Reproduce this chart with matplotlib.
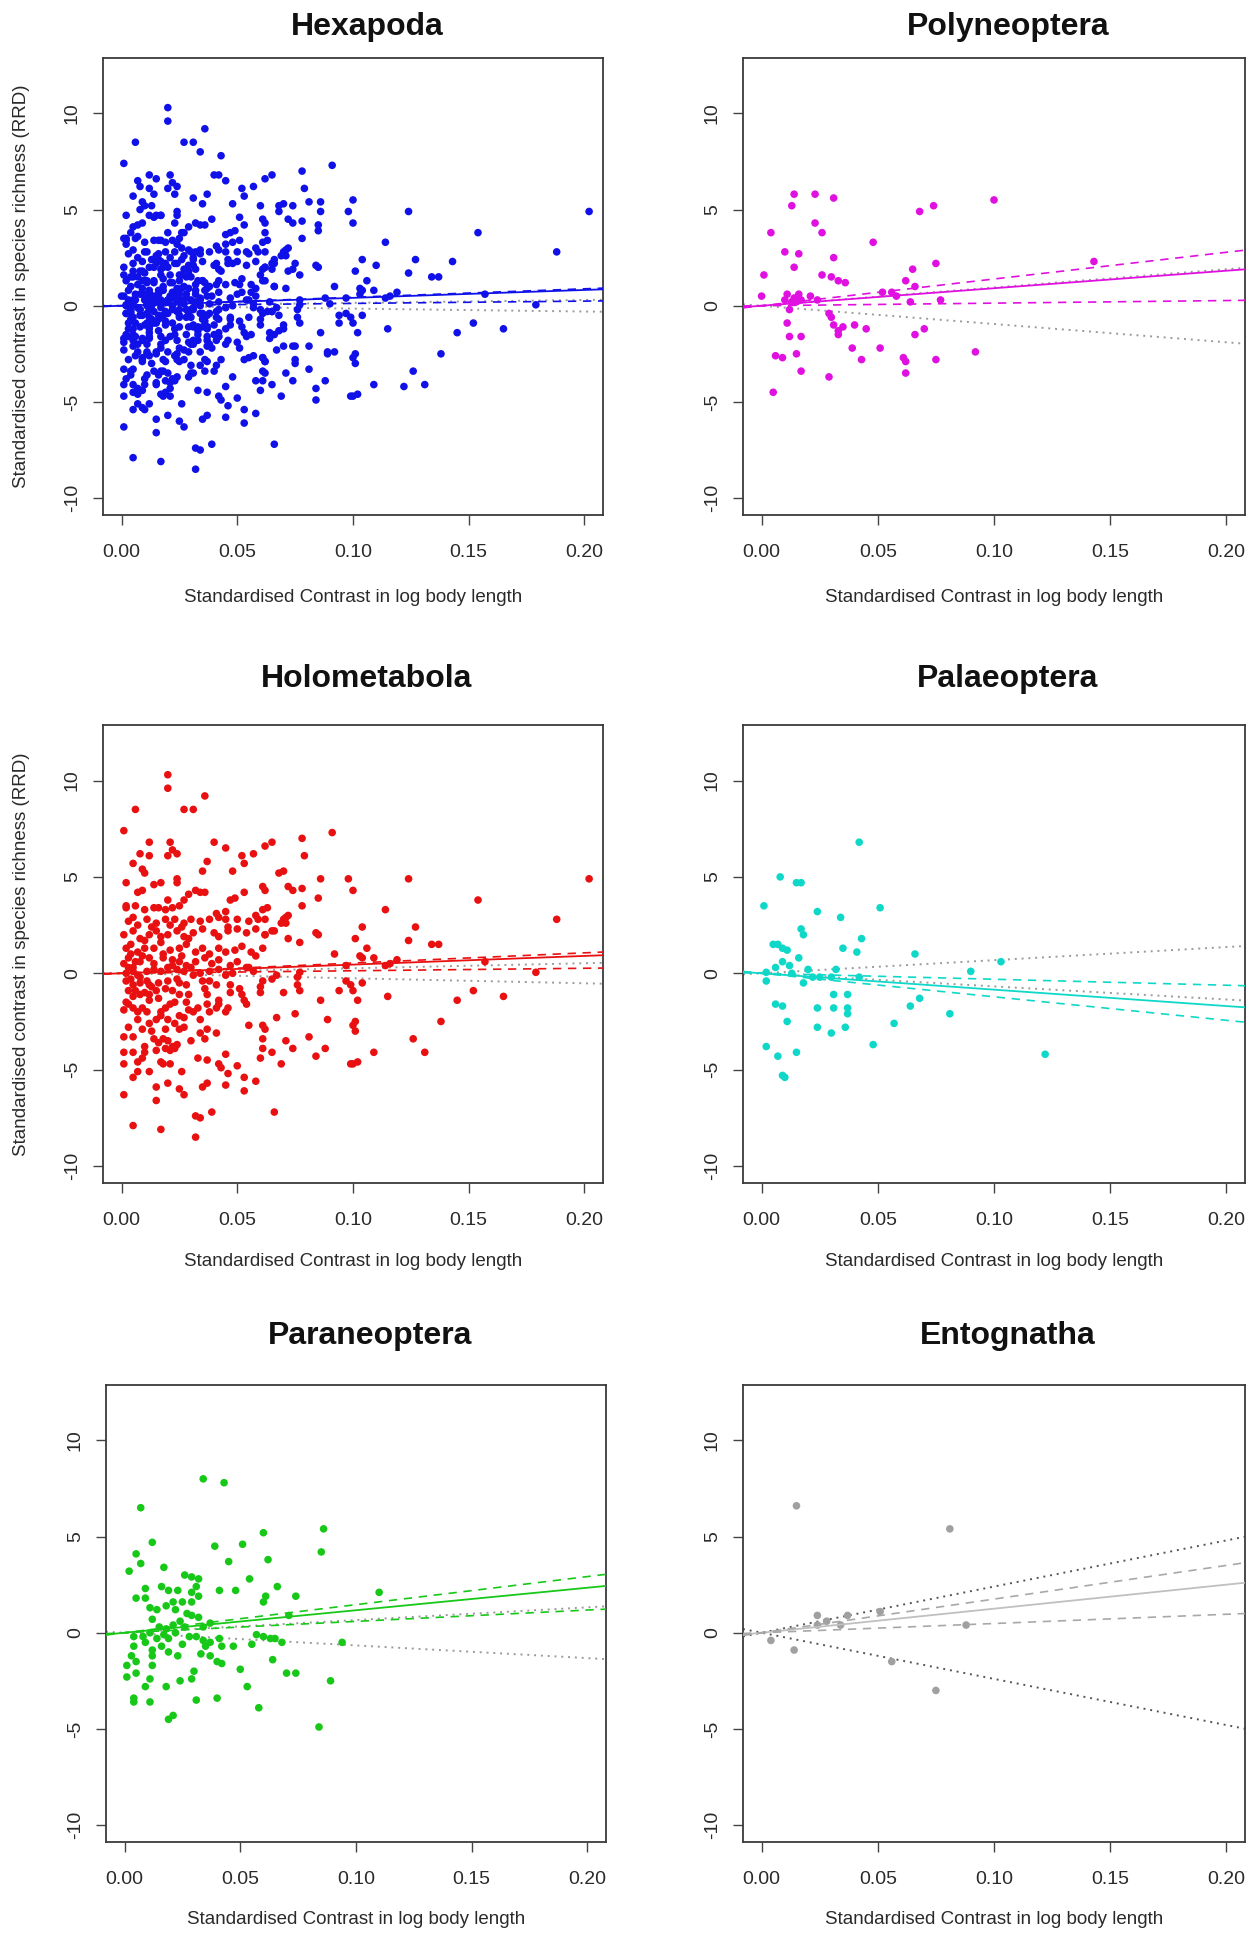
import numpy as np
import matplotlib
matplotlib.use("Agg")
import matplotlib.pyplot as plt

plt.rcParams['font.family'] = ['Liberation Sans', 'DejaVu Sans']

# ---- data ----
holo_x = [0.020, 0.020, 0.036, 0.006, 0.027, 0.031, 0.001, 0.091, 0.012, 0.021, 0.022, 0.024, 0.040, 0.045,
          0.008, 0.012, 0.005, 0.020, 0.009, 0.010, 0.002, 0.037, 0.035, 0.048, 0.052, 0.053, 0.057, 0.062,
          0.065, 0.078, 0.079, 0.068, 0.070, 0.086, 0.098, 0.100, 0.061, 0.062, 0.072, 0.074, 0.078, 0.085,
          0.078, 0.053, 0.024, 0.024, 0.014, 0.017, 0.007, 0.009, 0.002, 0.002, 0.005, 0.016, 0.019, 0.022,
          0.025, 0.027, 0.029, 0.032, 0.034, 0.036, 0.020, 0.047, 0.049, 0.041, 0.042, 0.045, 0.046, 0.058,
          0.061, 0.063, 0.069, 0.071, 0.072, 0.065, 0.062, 0.072, 0.077, 0.084, 0.085, 0.101, 0.092, 0.097,
          # right half
          0.124, 0.202, 0.154, 0.114, 0.188, 0.104, 0.127, 0.124, 0.134, 0.137, 0.106, 0.103, 0.104, 0.109,
          0.114, 0.116, 0.119, 0.157, 0.179, 0.104, 0.100, 0.102, 0.115, 0.152, 0.145, 0.165, 0.101, 0.101,
          0.100, 0.138, 0.126, 0.131, 0.109, 0.100, 0.102,
          # negative region
          0.001, 0.005, 0.017, 0.032, 0.032, 0.034, 0.039, 0.066, 0.015, 0.015, 0.020, 0.025, 0.027, 0.035,
          0.037, 0.045, 0.053, 0.058, 0.053, 0.050, 0.046, 0.045, 0.042, 0.043, 0.037, 0.033, 0.026, 0.021,
          0.018, 0.017, 0.012, 0.005, 0.007, 0.007, 0.009, 0.001, 0.001, 0.005, 0.001, 0.005, 0.010, 0.010,
          0.014, 0.016, 0.018, 0.020, 0.022, 0.023, 0.024, 0.015, 0.019, 0.021, 0.025, 0.027, 0.030, 0.034,
          0.036, 0.037, 0.041, 0.055, 0.061, 0.062, 0.061, 0.061, 0.060, 0.065, 0.069, 0.071, 0.074, 0.067,
          0.075, 0.081, 0.084, 0.088, 0.089, 0.086, 0.099, 0.094, 0.097, 0.099, 0.077, 0.076, 0.070, 0.076,
          0.077, 0.065, 0.067, 0.060, 0.060, 0.061, 0.052, 0.053, 0.054, 0.051, 0.057, 0.055, 0.047, 0.047,
          0.046, 0.045, 0.042, 0.041, 0.042, 0.038, 0.037, 0.037, 0.033, 0.034, 0.031, 0.029, 0.027, 0.025,
          0.023, 0.021, 0.019, 0.017, 0.020, 0.017, 0.015, 0.012, 0.011, 0.009, 0.007, 0.005, 0.003, 0.002,
          0.001, 0.029, 0.025, 0.022, 0.019, 0.015, 0.012, 0.010, 0.008, 0.005, 0.003, 0.028, 0.025, 0.020,
          0.016, 0.012, 0.008, 0.005, 0.002, 0.038, 0.041, 0.035, 0.036,
          # around zero
          0.002, 0.005, 0.007, 0.011, 0.014, 0.017, 0.020, 0.024, 0.027, 0.031, 0.034, 0.038, 0.042, 0.045,
          0.048, 0.001, 0.003, 0.005, 0.008, 0.012, 0.014, 0.018, 0.022, 0.025, 0.028, 0.032, 0.036, 0.039,
          0.042, 0.047, 0.050, 0.054,
          # positive band
          0.002, 0.004, 0.007, 0.010, 0.014, 0.017, 0.021, 0.025, 0.028, 0.032, 0.035, 0.038, 0.042, 0.045,
          0.049, 0.052, 0.056, 0.058, 0.061, 0.001, 0.005, 0.008, 0.012, 0.015, 0.020, 0.024, 0.027, 0.031,
          0.035, 0.040, 0.042, 0.046, 0.050, 0.054, 0.058, 0.062, 0.066, 0.003, 0.007, 0.011, 0.015, 0.019,
          0.023, 0.027, 0.030, 0.034, 0.038, 0.045, 0.050, 0.055, 0.059, 0.062, 0.070, 0.071, 0.006, 0.010,
          0.014,
          # dense core
          0.003, 0.004, 0.006, 0.008, 0.009, 0.011, 0.013, 0.006, 0.004, 0.010, 0.012, 0.007, 0.003, 0.009,
          0.013, 0.016, 0.018, 0.022, 0.024, 0.026, 0.028, 0.030, 0.019, 0.023, 0.013, 0.017, 0.021, 0.026,
          0.029]
holo_y = [10.3, 9.6, 9.2, 8.5, 8.5, 8.5, 7.4, 7.3, 6.8, 6.8, 6.4, 6.2, 6.8, 6.5,
          6.2, 6.1, 5.7, 6.1, 5.4, 5.2, 4.7, 5.8, 5.3, 5.3, 6.1, 5.7, 6.2, 6.6,
          6.8, 7.0, 6.1, 5.2, 5.3, 4.9, 4.9, 4.3, 4.5, 4.3, 4.5, 4.3, 4.4, 3.9,
          3.5, 4.2, 4.9, 4.7, 4.6, 4.7, 4.2, 4.3, 3.5, 3.4, 2.9, 3.4, 3.3, 3.4,
          3.5, 3.8, 4.1, 4.3, 4.2, 4.2, 3.8, 3.8, 3.9, 3.1, 2.9, 3.2, 2.4, 3.0,
          3.3, 3.4, 2.6, 2.9, 3.0, 2.2, 2.0, 1.8, 1.6, 2.1, 2.0, 1.8, 1.0, 0.4,
          4.9, 4.9, 3.8, 3.3, 2.8, 2.4, 2.4, 1.7, 1.5, 1.5, 1.3, 0.9, 0.8, 0.8,
          0.4, 0.5, 0.7, 0.6, 0.05, -0.5, -0.9, -1.4, -1.2, -0.9, -1.4, -1.2, -2.5, -3.0,
          -2.7, -2.5, -3.4, -4.1, -4.1, -4.7, -4.6,
          -6.3, -7.9, -8.1, -8.5, -7.4, -7.5, -7.2, -7.2, -6.6, -5.9, -5.7, -6.0, -6.3, -5.9,
          -5.7, -5.8, -6.1, -5.6, -5.4, -4.8, -5.2, -4.2, -4.7, -4.9, -4.5, -4.4, -5.1, -4.7,
          -4.7, -4.6, -5.1, -5.4, -5.1, -4.6, -4.4, -4.7, -4.1, -4.1, -3.3, -3.3, -3.8, -4.1,
          -3.4, -3.6, -3.4, -3.5, -3.8, -3.9, -3.7, -4.0, -3.9, -4.0, -2.9, -2.8, -3.5, -3.1,
          -3.4, -2.9, -3.1, -2.7, -2.7, -2.9, -3.4, -3.9, -4.4, -4.1, -4.7, -3.5, -3.9, -2.3,
          -2.1, -3.3, -4.3, -3.9, -2.4, -1.4, -4.7, -0.9, -0.4, -0.6, -0.9, -0.6, -1.0, -0.2,
          0.05, -0.3, -0.1, -1.0, -0.7, -0.4, -1.1, -1.4, -1.6, -0.8, 0.1, 0.3, -0.6, -1.0,
          -1.8, -2.0, -1.6, -1.8, -1.4, -2.0, -1.6, -1.1, -1.8, -2.4, -2.0, -1.9, -2.3, -2.2,
          -1.5, -1.6, -1.8, -2.0, -2.4, -2.2, -2.4, -2.6, -2.0, -1.8, -2.0, -1.8, -1.6, -1.5,
          -1.9, -1.1, -1.1, -0.9, -0.8, -0.9, -1.1, -1.0, -1.1, -1.2, -0.9, -0.6, -0.5, -0.4,
          -0.5, -0.6, -0.5, -0.6, -0.4, -0.4, -0.6, -0.4, -0.8,
          0.0, 0.1, -0.1, 0.1, 0.2, 0.1, 0.3, 0.2, 0.1, -0.1, 0.0, 0.1, 0.2, -0.1,
          0.0, 0.5, 0.8, 0.3, 0.6, 0.8, 0.5, 0.8, 0.7, 0.6, 0.4, 0.6, 0.8, 0.5,
          0.7, 0.4, 0.6, 0.3,
          1.3, 1.5, 1.1, 1.3, 1.3, 1.6, 1.2, 1.3, 1.5, 1.1, 1.3, 1.0, 1.3, 1.1,
          1.2, 1.4, 1.1, 0.9, 1.3, 2.0, 2.2, 1.8, 2.0, 2.2, 2.0, 2.2, 1.9, 2.1,
          2.3, 2.1, 1.9, 2.2, 2.3, 2.1, 2.3, 2.0, 2.2, 2.7, 2.5, 2.8, 2.6, 2.8,
          2.8, 2.6, 2.8, 2.7, 2.8, 2.8, 2.8, 2.7, 2.8, 2.8, 2.8, 2.6, 3.5, 3.3,
          3.4,
          0.3, -0.3, 0.6, -0.2, 0.9, -0.4, -0.7, -0.9, 1.0, 1.7, -1.4, -2.4, -2.8, -2.9,
          -3.0, -1.3, 1.0, 0.4, -0.3, 0.9, -1.5, 0.3, -2.9, -2.6, 2.4, 1.9, 2.5, 2.4,
          1.8]

poly_x = [0.001, 0.000, 0.004, 0.005, 0.006, 0.009, 0.010, 0.013, 0.014, 0.014, 0.016, 0.011, 0.012, 0.017,
          0.015, 0.017, 0.011, 0.013, 0.014, 0.016, 0.012, 0.015, 0.017, 0.010, 0.021, 0.023, 0.023, 0.026,
          0.026, 0.030, 0.033, 0.036, 0.031, 0.031, 0.029, 0.029, 0.030, 0.031, 0.033, 0.033, 0.035, 0.024,
          0.039, 0.040, 0.043, 0.045, 0.048, 0.051, 0.052, 0.056, 0.058, 0.062, 0.065, 0.061, 0.062, 0.062,
          0.064, 0.066, 0.066, 0.068, 0.070, 0.074, 0.075, 0.075, 0.077, 0.092, 0.100, 0.143]
poly_y = [1.6, 0.5, 3.8, -4.5, -2.6, -2.7, 2.8, 5.2, 5.8, 2.0, 2.7, -0.9, -1.6, -1.6,
          -2.5, -3.4, 0.6, 0.2, 0.4, 0.6, -0.2, 0.2, 0.3, 0.3, 0.5, 4.3, 5.8, 3.8,
          1.6, 1.5, 1.3, 1.2, 5.6, 2.5, -3.7, -0.4, -0.6, -1.0, -1.3, -1.5, -1.1, 0.3,
          -2.2, -1.0, -2.8, -1.2, 3.3, -2.2, 0.7, 0.7, 0.5, 1.3, 1.9, -2.7, -2.9, -3.5,
          0.2, 1.0, -1.5, 4.9, -1.2, 5.2, 2.2, -2.8, 0.3, -2.4, 5.5, 2.3]

palae_x = [0.042, 0.008, 0.015, 0.017, 0.001, 0.051, 0.024, 0.034, 0.017, 0.018, 0.043, 0.005, 0.007, 0.009,
           0.011, 0.035, 0.041, 0.066, 0.016, 0.006, 0.009, 0.012, 0.013, 0.002, 0.020, 0.022, 0.025, 0.030,
           0.032, 0.090, 0.103, 0.002, 0.018, 0.042, 0.031, 0.037, 0.006, 0.009, 0.024, 0.031, 0.037, 0.037,
           0.068, 0.064, 0.081, 0.011, 0.024, 0.030, 0.036, 0.057, 0.002, 0.007, 0.015, 0.048, 0.122, 0.009,
           0.010]
palae_y = [6.8, 5.0, 4.7, 4.7, 3.5, 3.4, 3.2, 2.9, 2.3, 2.0, 1.8, 1.5, 1.5, 1.3,
           1.2, 1.3, 1.1, 1.0, 0.8, 0.3, 0.6, 0.4, 0.0, 0.05, 0.2, -0.2, -0.2, -0.2,
           0.2, 0.1, 0.6, -0.4, -0.5, -0.2, -1.1, -1.1, -1.6, -1.7, -1.8, -1.8, -1.8, -2.1,
           -1.3, -1.7, -2.1, -2.5, -2.8, -3.1, -2.8, -2.6, -3.8, -4.3, -4.1, -3.7, -4.2, -5.3,
           -5.4]

para_x = [0.034, 0.043, 0.007, 0.086, 0.060, 0.012, 0.039, 0.051, 0.085, 0.005, 0.007, 0.045, 0.062, 0.002,
          0.017, 0.054, 0.026, 0.029, 0.032, 0.031, 0.029, 0.032, 0.066, 0.041, 0.048, 0.074, 0.110, 0.005,
          0.009, 0.016, 0.019, 0.023, 0.009, 0.011, 0.014, 0.018, 0.021, 0.022, 0.025, 0.029, 0.027, 0.029,
          0.061, 0.060, 0.071, 0.012, 0.015, 0.018, 0.021, 0.024, 0.026, 0.032, 0.034, 0.037, 0.011, 0.014,
          0.017, 0.019, 0.022, 0.009, 0.012, 0.016, 0.019, 0.008, 0.031, 0.034, 0.035, 0.004, 0.004, 0.003,
          0.005, 0.001, 0.001, 0.005, 0.009, 0.011, 0.012, 0.012, 0.004, 0.004, 0.011, 0.018, 0.019, 0.021,
          0.024, 0.029, 0.030, 0.031, 0.040, 0.023, 0.025, 0.028, 0.033, 0.037, 0.040, 0.042, 0.042, 0.037,
          0.041, 0.047, 0.050, 0.053, 0.058, 0.055, 0.057, 0.060, 0.063, 0.065, 0.068, 0.064, 0.070, 0.074,
          0.089, 0.084, 0.094]
para_y = [8.0, 7.8, 6.5, 5.4, 5.2, 4.7, 4.5, 4.6, 4.2, 4.1, 3.6, 3.7, 3.8, 3.2,
          3.4, 2.8, 3.0, 2.9, 2.8, 2.4, 2.1, 1.9, 2.4, 2.2, 2.2, 1.9, 2.1, 1.8,
          2.3, 2.4, 2.2, 2.2, 1.8, 1.3, 1.2, 1.4, 1.6, 1.2, 1.6, 1.6, 1.0, 0.9,
          1.9, 1.6, 0.9, 0.7, 0.3, 0.2, 0.4, 0.6, 0.3, 0.8, 0.3, 0.5, 0.0, -0.3,
          -0.1, -0.3, 0.0, -0.5, -0.9, -0.7, -1.0, -0.2, -0.2, -0.4, -0.7, -0.2, -0.7, -1.2,
          -1.5, -1.7, -2.3, -2.1, -2.8, -2.4, -1.7, -1.2, -3.4, -3.6, -3.6, -2.8, -4.5, -4.3,
          -2.5, -2.4, -2.0, -3.5, -3.4, -1.2, -0.6, -0.2, -1.1, -1.2, -1.5, -1.6, -0.7, -0.5,
          -0.3, -0.7, -1.9, -2.8, -3.9, -0.6, -0.1, -0.2, -0.3, -0.3, -0.5, -1.4, -2.1, -2.1,
          -2.5, -4.9, -0.5]

ento_x = [0.015, 0.081, 0.024, 0.024, 0.034, 0.037, 0.051, 0.004, 0.014, 0.056, 0.088, 0.075, 0.028]
ento_y = [6.6, 5.4, 0.9, 0.4, 0.4, 0.9, 1.1, -0.4, -0.9, -1.5, 0.4, -3.0, 0.6]

# Hexapoda = all contrasts together
hexa_x = holo_x + poly_x + palae_x + para_x + ento_x
hexa_y = holo_y + poly_y + palae_y + para_y + ento_y

# fitted slopes: solid, dashed (two), dotted (+/-)
slopes = {
    "Hexapoda":     (4.1, (4.4, 1.2), 1.5),
    "Polyneoptera": (9.1, (13.9, 1.35), 9.5),
    "Holometabola": (4.5, (5.3, 1.3), 2.6),
    "Palaeoptera":  (-8.5, (-3.1, -12.2), 6.8),
    "Paraneoptera": (11.7, (14.6, 5.9), 6.6),
    "Entognatha":   (12.5, (17.5, 4.8), 24.0),
}

panels = [
    ("Hexapoda", hexa_x, hexa_y, "#1010e8", "#9a9a9a"),
    ("Polyneoptera", poly_x, poly_y, "#e010e0", "#9a9a9a"),
    ("Holometabola", holo_x, holo_y, "#e81010", "#9a9a9a"),
    ("Palaeoptera", palae_x, palae_y, "#10d8c8", "#9a9a9a"),
    ("Paraneoptera", para_x, para_y, "#18c818", "#9a9a9a"),
    ("Entognatha", ento_x, ento_y, "#a0a0a0", "#555555"),
]

W, H = 1255, 1936
fig = plt.figure(figsize=(W / 100, H / 100), dpi=100)

rows = [(58, 515), (725, 1183), (1385, 1842)]
cols = [(103, 603), (743, 1245)]
title_y = [27, 679, 1336]
xlab_y = [597, 1262, 1919]

XLIM = (-0.008, 0.208)
YLIM = (-10.88, 12.88)
txt = "#2a2a2a"

for i, (name, xs, ys, col, dotcol) in enumerate(panels):
    r, c = divmod(i, 2)
    x0, x1 = cols[c]
    if name == "Paraneoptera":
        x0, x1 = x0 + 3, x1 + 3
    top, bot = rows[r]
    ax = fig.add_axes([x0 / W, 1 - bot / H, (x1 - x0) / W, (bot - top) / H])

    b, (d1, d2), e = slopes[name]
    xl = np.array(XLIM)
    ax.plot(xl, e * xl, color=dotcol, lw=1.4, ls=(0, (1, 2.5)))
    ax.plot(xl, -e * xl, color=dotcol, lw=1.4, ls=(0, (1, 2.5)))
    ax.scatter(xs, ys, s=30, color=col, edgecolors="none", zorder=3)
    lc = "#c0c0c0" if name == "Entognatha" else col
    dc = "#a8a8a8" if name == "Entognatha" else col
    ax.plot(xl, b * xl, color=lc, lw=1.3, zorder=4)
    ax.plot(xl, d1 * xl, color=dc, lw=1.2, ls=(0, (5, 4)), zorder=4)
    ax.plot(xl, d2 * xl, color=dc, lw=1.2, ls=(0, (5, 4)), zorder=4)

    ax.set_xlim(XLIM)
    ax.set_ylim(YLIM)
    ax.set_xticks([0, 0.05, 0.10, 0.15, 0.20])
    ax.set_xticklabels(["0.00", "0.05", "0.10", "0.15", "0.20"])
    ax.set_yticks([-10, -5, 0, 5, 10])
    ax.set_yticklabels(["-10", "-5", "0", "5", "10"], rotation=90, va="center")
    ax.tick_params(direction="out", length=7, width=1.0, labelsize=14,
                   colors="#444444", labelcolor=txt)
    ax.tick_params(axis="x", pad=14)
    ax.tick_params(axis="y", pad=9)
    for sp in ax.spines.values():
        sp.set_linewidth(1.3)
        sp.set_color("#3a3a3a")

    cx = (x0 + x1) / 2
    fig.text((cx + 14) / W, 1 - title_y[r] / H, name, ha="center", va="center",
             fontsize=23, fontweight="bold", color="#111111")
    fig.text(cx / W, 1 - xlab_y[r] / H, "Standardised Contrast in log body length",
             ha="center", va="center", fontsize=13.5, color=txt)
    if c == 0 and r < 2:
        fig.text(22 / W, 1 - (top + bot) / 2 / H,
                 "Standardised contrast in species richness (RRD)",
                 ha="center", va="center", rotation=90, fontsize=13.5, color=txt)

fig.savefig("out.png", dpi=100, facecolor="white")
